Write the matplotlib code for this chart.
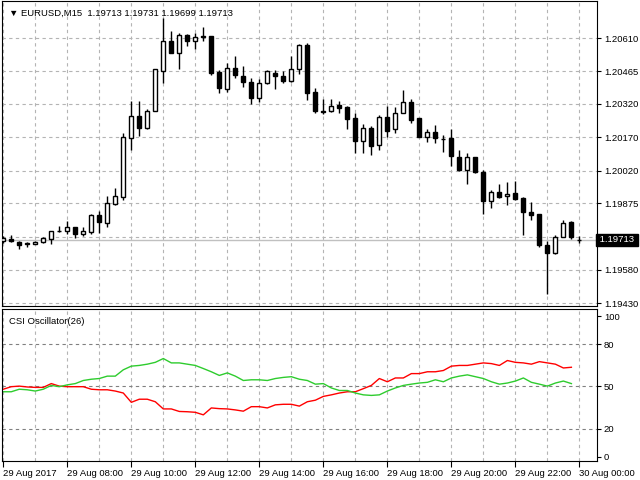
import matplotlib
matplotlib.use("Agg")
import matplotlib.pyplot as plt
import numpy as np

opens = [1.19706,1.19718,1.19705,1.19697,1.19696,1.19705,1.19718,1.19752,1.19753,1.19771,1.19739,1.19749,1.19823,1.19787,1.19874,1.19903,1.20165,1.20265,1.20209,1.20287,1.20467,1.20598,1.20546,1.20626,1.20600,1.20622,1.20622,1.20460,1.20387,1.20480,1.20442,1.20416,1.20347,1.20410,1.20458,1.20445,1.20422,1.20476,1.20582,1.20371,1.20286,1.20286,1.20314,1.20306,1.20254,1.20155,1.20210,1.20136,1.20258,1.20206,1.20279,1.20327,1.20254,1.20173,1.20195,1.20162,1.20166,1.20083,1.20023,1.20083,1.20017,1.19884,1.19928,1.19906,1.19921,1.19899,1.19838,1.19829,1.19692,1.19655,1.19727,1.19792,1.19713]
highs = [1.19730,1.19733,1.19709,1.19703,1.19708,1.19725,1.19753,1.19775,1.19797,1.19771,1.19771,1.19829,1.19841,1.19906,1.19946,1.20187,1.20330,1.20330,1.20296,1.20471,1.20702,1.20644,1.20635,1.20629,1.20635,1.20663,1.20622,1.20468,1.20500,1.20534,1.20486,1.20432,1.20430,1.20471,1.20471,1.20465,1.20530,1.20585,1.20588,1.20388,1.20341,1.20341,1.20333,1.20311,1.20279,1.20228,1.20220,1.20267,1.20308,1.20305,1.20381,1.20340,1.20257,1.20206,1.20223,1.20179,1.20206,1.20111,1.20100,1.20083,1.20022,1.19937,1.19960,1.19969,1.19975,1.19902,1.19882,1.19829,1.19709,1.19735,1.19803,1.19797,1.19731]
lows = [1.19700,1.19703,1.19670,1.19683,1.19693,1.19699,1.19695,1.19746,1.19739,1.19721,1.19730,1.19739,1.19744,1.19771,1.19870,1.19891,1.20111,1.20176,1.20206,1.20286,1.20410,1.20544,1.20473,1.20575,1.20563,1.20600,1.20446,1.20369,1.20371,1.20436,1.20395,1.20317,1.20325,1.20406,1.20384,1.20410,1.20416,1.20451,1.20337,1.20279,1.20274,1.20282,1.20279,1.20206,1.20100,1.20100,1.20093,1.20115,1.20169,1.20191,1.20279,1.20235,1.20169,1.20150,1.20144,1.20106,1.20041,1.20019,1.19963,1.20009,1.19826,1.19855,1.19899,1.19867,1.19892,1.19733,1.19800,1.19683,1.19470,1.19651,1.19724,1.19717,1.19699]
closes = [1.19721,1.19706,1.19690,1.19693,1.19705,1.19719,1.19753,1.19753,1.19771,1.19739,1.19753,1.19823,1.19792,1.19876,1.19906,1.20169,1.20265,1.20209,1.20289,1.20473,1.20598,1.20546,1.20626,1.20597,1.20617,1.20616,1.20457,1.20391,1.20480,1.20446,1.20417,1.20347,1.20410,1.20464,1.20444,1.20422,1.20476,1.20582,1.20369,1.20286,1.20284,1.20308,1.20299,1.20252,1.20155,1.20213,1.20130,1.20258,1.20198,1.20279,1.20327,1.20246,1.20173,1.20194,1.20165,1.20160,1.20086,1.20023,1.20083,1.20017,1.19884,1.19928,1.19903,1.19917,1.19896,1.19835,1.19823,1.19692,1.19655,1.19727,1.19788,1.19727,1.19713]

csi_red = [48.0,49.8,50.2,49.6,49.3,49.3,52.0,50.2,49.8,49.8,49.8,48.0,47.6,47.6,46.7,45.3,38.7,40.9,40.9,39.1,34.0,34.0,32.2,32.0,31.6,29.8,34.7,34.2,34.0,33.3,32.4,35.6,35.6,34.7,36.9,37.3,37.3,36.0,39.1,40.2,42.9,44.0,45.3,46.2,46.2,48.4,50.7,55.6,53.3,56.0,56.0,59.1,59.1,60.4,60.4,61.3,64.4,64.9,64.9,65.8,66.7,66.2,64.9,68.4,67.1,66.7,65.8,67.6,66.7,65.8,63.1,63.6]
csi_green = [46.2,46.2,48.0,47.6,46.7,48.0,50.7,49.8,51.1,52.0,54.2,55.1,55.6,57.3,57.3,61.8,64.4,64.9,65.8,67.1,69.8,66.7,66.7,65.8,64.9,62.7,60.4,57.8,59.6,57.3,54.2,54.7,54.7,54.2,55.6,56.4,56.9,55.1,54.2,51.6,52.0,48.9,47.1,47.1,45.3,44.0,43.6,44.0,46.7,48.9,50.7,51.6,52.4,52.9,54.7,53.3,56.0,57.3,58.2,56.9,55.6,53.3,51.6,52.4,53.8,56.0,52.9,51.6,50.2,52.4,53.8,52.0]

price_ticks = [1.20610,1.20465,1.20320,1.20170,1.20020,1.19875,1.19725,1.19580,1.19430]
price_labels = ["1.20610","1.20465","1.20320","1.20170","1.20020","1.19875","","1.19580","1.19430"]
osc_ticks = [0,20,50,80,100]
time_labels = ["29 Aug 2017","29 Aug 08:00","29 Aug 10:00","29 Aug 12:00","29 Aug 14:00",
               "29 Aug 16:00","29 Aug 18:00","29 Aug 20:00","29 Aug 22:00","30 Aug 00:00"]
last_price = 1.19713
title = "EURUSD,M15  1.19713 1.19731 1.19699 1.19713"
osc_title = "CSI Oscillator(26)"

plt.rcParams['font.family'] = ['Liberation Sans', 'DejaVu Sans']
FS = 6.8
fig = plt.figure(figsize=(6.4, 4.8), dpi=100)
W, H = 640, 480
ax = fig.add_axes([2/W, (H-306)/H, 595/W, 305/H])
ax2 = fig.add_axes([2/W, (H-461)/H, 595/W, 152/H])

n = len(opens)
x = np.arange(n)
xl = (-0.16, 74.2)
grid_kw = dict(color='#b4b4b4', linestyle=(0, (3, 3)), linewidth=0.8)

for a in (ax, ax2):
    for gx in range(0, 76, 4):
        a.axvline(gx, zorder=0, **grid_kw)
for p in price_ticks:
    ax.axhline(p, zorder=0, **grid_kw)
for v in (20, 50, 80):
    ax2.axhline(v, zorder=0, color='#808080', linestyle=(0, (3, 3)), linewidth=0.8)

w = 0.5
for i in x:
    o, h, l, c = opens[i], highs[i], lows[i], closes[i]
    ax.vlines(i, l, h, color='black', linewidth=1, zorder=2)
    bot, top = min(o, c), max(o, c)
    fc = 'white' if c >= o else 'black'
    hgt = max(top - bot, 0.000001)
    ax.add_patch(plt.Rectangle((i - w/2, bot), w, hgt, facecolor=fc,
                               edgecolor='black', linewidth=1, zorder=3))
ax.axhline(last_price, color='#c0c0c0', linewidth=1, zorder=1)

ax.set_xlim(*xl)
ax.set_ylim(1.19418, 1.20777)
ax.yaxis.tick_right()
ax.set_yticks(price_ticks)
ax.set_yticklabels(price_labels, fontsize=FS)
ax.tick_params(axis='y', length=3, width=0.8, pad=2)
ax.set_xticks([])
ax.text(1.0, last_price, " 1.19713 ", transform=ax.get_yaxis_transform(),
        fontsize=FS, color='white', va='center', ha='left',
        bbox=dict(boxstyle='square,pad=0.15', fc='black', ec='black'), clip_on=False)
ax.text(0.012, 0.975, "\u25BC " + title, transform=ax.transAxes, fontsize=FS,
        va='top', ha='left')

xo = np.arange(len(csi_red))
ax2.plot(xo, csi_red, color='#ff0000', linewidth=1)
ax2.plot(xo, csi_green, color='#2ecc2e', linewidth=1)
ax2.set_xlim(*xl)
ax2.set_ylim(-3, 105)
ax2.yaxis.tick_right()
ax2.set_yticks(osc_ticks)
ax2.set_yticklabels([str(t) for t in osc_ticks], fontsize=FS)
ax2.tick_params(axis='y', length=3, width=0.8, pad=2)
ax2.set_xticks(np.arange(0, 80, 8))
ax2.set_xticklabels(time_labels, fontsize=FS, ha='left')
ax2.tick_params(axis='x', length=4, width=0.8, pad=2)
ax2.text(0.012, 0.95, osc_title, transform=ax2.transAxes, fontsize=FS, va='top', ha='left')

fig.savefig("out.png", dpi=100)
